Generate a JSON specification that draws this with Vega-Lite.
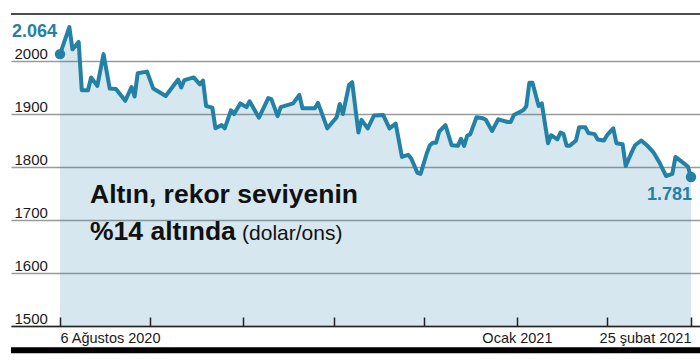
{
  "$schema": "https://vega.github.io/schema/vega-lite/v6.json",
  "width": 689,
  "height": 312,
  "autosize": {"type": "none"},
  "padding": {"left": 11, "top": 14, "right": 0, "bottom": 37},
  "background": "white",
  "config": {"view": {"stroke": null}, "font": "Liberation Sans"},
  "datasets": {
    "gold": [
      {"date": "2020-08-06", "value": 2013},
      {"date": "2020-08-09", "value": 2064},
      {"date": "2020-08-10", "value": 2022},
      {"date": "2020-08-12", "value": 2036},
      {"date": "2020-08-13", "value": 1945},
      {"date": "2020-08-15", "value": 1945},
      {"date": "2020-08-16", "value": 1969},
      {"date": "2020-08-18", "value": 1953},
      {"date": "2020-08-20", "value": 2013},
      {"date": "2020-08-22", "value": 1948},
      {"date": "2020-08-24", "value": 1947},
      {"date": "2020-08-27", "value": 1925},
      {"date": "2020-08-29", "value": 1951},
      {"date": "2020-08-30", "value": 1933},
      {"date": "2020-08-31", "value": 1977},
      {"date": "2020-09-03", "value": 1980},
      {"date": "2020-09-05", "value": 1948},
      {"date": "2020-09-09", "value": 1934},
      {"date": "2020-09-13", "value": 1965},
      {"date": "2020-09-14", "value": 1950},
      {"date": "2020-09-15", "value": 1964},
      {"date": "2020-09-18", "value": 1969},
      {"date": "2020-09-20", "value": 1956},
      {"date": "2020-09-21", "value": 1963},
      {"date": "2020-09-22", "value": 1915},
      {"date": "2020-09-24", "value": 1912},
      {"date": "2020-09-25", "value": 1873},
      {"date": "2020-09-27", "value": 1879},
      {"date": "2020-09-28", "value": 1873},
      {"date": "2020-09-30", "value": 1907},
      {"date": "2020-10-01", "value": 1900},
      {"date": "2020-10-03", "value": 1920},
      {"date": "2020-10-05", "value": 1913},
      {"date": "2020-10-06", "value": 1924},
      {"date": "2020-10-09", "value": 1893},
      {"date": "2020-10-12", "value": 1930},
      {"date": "2020-10-13", "value": 1928},
      {"date": "2020-10-15", "value": 1896},
      {"date": "2020-10-16", "value": 1913},
      {"date": "2020-10-20", "value": 1920},
      {"date": "2020-10-22", "value": 1936},
      {"date": "2020-10-23", "value": 1911},
      {"date": "2020-10-27", "value": 1911},
      {"date": "2020-10-28", "value": 1921},
      {"date": "2020-10-31", "value": 1873},
      {"date": "2020-11-03", "value": 1894},
      {"date": "2020-11-04", "value": 1919},
      {"date": "2020-11-05", "value": 1900},
      {"date": "2020-11-07", "value": 1955},
      {"date": "2020-11-08", "value": 1960},
      {"date": "2020-11-10", "value": 1865},
      {"date": "2020-11-11", "value": 1889},
      {"date": "2020-11-13", "value": 1873},
      {"date": "2020-11-15", "value": 1897},
      {"date": "2020-11-18", "value": 1898},
      {"date": "2020-11-20", "value": 1873},
      {"date": "2020-11-22", "value": 1882},
      {"date": "2020-11-24", "value": 1819},
      {"date": "2020-11-26", "value": 1823},
      {"date": "2020-11-27", "value": 1816},
      {"date": "2020-11-29", "value": 1789},
      {"date": "2020-11-30", "value": 1787},
      {"date": "2020-12-02", "value": 1826},
      {"date": "2020-12-03", "value": 1841},
      {"date": "2020-12-04", "value": 1846},
      {"date": "2020-12-05", "value": 1846},
      {"date": "2020-12-06", "value": 1867},
      {"date": "2020-12-08", "value": 1879},
      {"date": "2020-12-10", "value": 1841},
      {"date": "2020-12-12", "value": 1840},
      {"date": "2020-12-13", "value": 1853},
      {"date": "2020-12-14", "value": 1840},
      {"date": "2020-12-15", "value": 1859},
      {"date": "2020-12-16", "value": 1862},
      {"date": "2020-12-18", "value": 1894},
      {"date": "2020-12-20", "value": 1892},
      {"date": "2020-12-21", "value": 1889},
      {"date": "2020-12-23", "value": 1868},
      {"date": "2020-12-25", "value": 1890},
      {"date": "2020-12-28", "value": 1885},
      {"date": "2020-12-29", "value": 1885},
      {"date": "2020-12-30", "value": 1898},
      {"date": "2021-01-02", "value": 1907},
      {"date": "2021-01-03", "value": 1914},
      {"date": "2021-01-04", "value": 1959},
      {"date": "2021-01-05", "value": 1959},
      {"date": "2021-01-07", "value": 1915},
      {"date": "2021-01-08", "value": 1920},
      {"date": "2021-01-10", "value": 1845},
      {"date": "2021-01-11", "value": 1860},
      {"date": "2021-01-13", "value": 1852},
      {"date": "2021-01-14", "value": 1865},
      {"date": "2021-01-15", "value": 1862},
      {"date": "2021-01-16", "value": 1840},
      {"date": "2021-01-17", "value": 1840},
      {"date": "2021-01-19", "value": 1850},
      {"date": "2021-01-20", "value": 1875},
      {"date": "2021-01-22", "value": 1875},
      {"date": "2021-01-23", "value": 1864},
      {"date": "2021-01-25", "value": 1862},
      {"date": "2021-01-26", "value": 1852},
      {"date": "2021-01-28", "value": 1850},
      {"date": "2021-01-29", "value": 1860},
      {"date": "2021-01-31", "value": 1873},
      {"date": "2021-02-01", "value": 1845},
      {"date": "2021-02-03", "value": 1843},
      {"date": "2021-02-04", "value": 1802},
      {"date": "2021-02-06", "value": 1829},
      {"date": "2021-02-07", "value": 1841},
      {"date": "2021-02-09", "value": 1850},
      {"date": "2021-02-11", "value": 1840},
      {"date": "2021-02-13", "value": 1827},
      {"date": "2021-02-15", "value": 1807},
      {"date": "2021-02-17", "value": 1783},
      {"date": "2021-02-19", "value": 1787},
      {"date": "2021-02-20", "value": 1819},
      {"date": "2021-02-22", "value": 1810},
      {"date": "2021-02-24", "value": 1801},
      {"date": "2021-02-25", "value": 1781}
    ],
    "ends": [
      {"date": "2020-08-06", "value": 2013, "label": "2.064", "side": "start"},
      {"date": "2021-02-25", "value": 1781, "label": "1.781", "side": "end"}
    ]
  },
  "layer": [
    {
      "data": {"name": "gold"},
      "mark": {"type": "area", "fill": "#2882aa", "fillOpacity": 0.19},
      "encoding": {
        "x": {
          "field": "date",
          "type": "temporal",
          "scale": {
            "domain": [
              {"year": 2020, "month": 7, "date": 21, "hours": 5, "minutes": 30, "utc": true},
              {"year": 2021, "month": 2, "date": 27, "hours": 21, "minutes": 36, "utc": true}
            ]
          },
          "axis": {
            "values": [
              {"year": 2020, "month": 8, "date": 6, "utc": true},
              {"year": 2020, "month": 9, "date": 4, "utc": true},
              {"year": 2020, "month": 10, "date": 4, "utc": true},
              {"year": 2020, "month": 11, "date": 2, "utc": true},
              {"year": 2020, "month": 12, "date": 1, "utc": true},
              {"year": 2020, "month": 12, "date": 31, "utc": true},
              {"year": 2021, "month": 1, "date": 29, "utc": true},
              {"year": 2021, "month": 2, "date": 25, "utc": true}
            ],
            "labelExpr": "utcmonth(datum.value) == 7 ? '6 Ağustos 2020' : (utcmonth(datum.value) == 11 && utcdate(datum.value) == 31) ? 'Ocak 2021' : utcmonth(datum.value) == 1 ? '25 şubat 2021' : ''",
            "grid": false,
            "domain": true,
            "domainColor": "#222222",
            "domainWidth": 1.5,
            "ticks": true,
            "tickSize": -9,
            "tickColor": "#222222",
            "tickWidth": 1.5,
            "labelFont": "Liberation Sans",
            "labelFontSize": 14.5,
            "labelColor": "#1a1a1a",
            "labelBaseline": "top",
            "labelPadding": 14,
            "labelFlush": 50,
            "labelFlushOffset": 0,
            "labelOverlap": false,
            "title": null,
            "zindex": 1
          }
        },
        "y": {
          "field": "value",
          "type": "quantitative",
          "scale": {"domain": [1500, 2088.7], "zero": false, "nice": false},
          "axis": {
            "values": [1500, 1600, 1700, 1800, 1900, 2000],
            "format": "d",
            "grid": true,
            "gridColor": "#9a9a9a",
            "gridWidth": 1.3,
            "domain": false,
            "ticks": false,
            "tickSize": 0,
            "labelAlign": "left",
            "labelBaseline": "bottom",
            "labelPadding": -3,
            "labelFont": "Liberation Sans",
            "labelFontSize": 15,
            "labelColor": "#1a1a1a",
            "title": null
          }
        },
        "y2": {"datum": 1500}
      }
    },
    {
      "data": {"name": "gold"},
      "mark": {"type": "line", "color": "#2381a5", "strokeWidth": 4, "strokeJoin": "round", "strokeCap": "round"},
      "encoding": {
        "x": {"field": "date", "type": "temporal"},
        "y": {"field": "value", "type": "quantitative"}
      }
    },
    {
      "data": {"name": "ends"},
      "mark": {"type": "circle", "color": "#2381a5", "size": 110, "opacity": 1},
      "encoding": {
        "x": {"field": "date", "type": "temporal"},
        "y": {"field": "value", "type": "quantitative"}
      }
    },
    {
      "data": {"name": "ends"},
      "transform": [{"filter": "datum.side == 'start'"}],
      "mark": {"type": "text", "color": "#2381a5", "font": "Liberation Sans", "fontWeight": "bold", "fontSize": 18, "align": "right", "baseline": "alphabetic", "dx": -3, "dy": -17.5},
      "encoding": {
        "x": {"field": "date", "type": "temporal"},
        "y": {"field": "value", "type": "quantitative"},
        "text": {"field": "label"}
      }
    },
    {
      "data": {"name": "ends"},
      "transform": [{"filter": "datum.side == 'end'"}],
      "mark": {"type": "text", "color": "#2381a5", "font": "Liberation Sans", "fontWeight": "bold", "fontSize": 18, "align": "right", "baseline": "alphabetic", "dx": 1, "dy": 23.3},
      "encoding": {
        "x": {"field": "date", "type": "temporal"},
        "y": {"field": "value", "type": "quantitative"},
        "text": {"field": "label"}
      }
    },
    {
      "data": {"values": [{"title": "Altın, rekor seviyenin"}]},
      "mark": {"type": "text", "color": "#111111", "font": "Liberation Sans", "fontWeight": "bold", "fontSize": 26.5, "align": "left", "baseline": "alphabetic", "lineHeight": 36.7},
      "encoding": {
        "x": {"datum": {"year": 2020, "month": 8, "date": 15, "hours": 15, "minutes": 36, "utc": true}, "type": "temporal"},
        "y": {"datum": 1731.5, "type": "quantitative"},
        "text": {"value": ["Altın, rekor seviyenin", "%14 altında"]}
      }
    },
    {
      "data": {"values": [{"unit": "(dolar/ons)"}]},
      "mark": {"type": "text", "color": "#111111", "font": "Liberation Sans", "fontWeight": "normal", "fontSize": 21, "align": "left", "baseline": "alphabetic"},
      "encoding": {
        "x": {"datum": {"year": 2020, "month": 10, "date": 3, "hours": 13, "minutes": 30, "utc": true}, "type": "temporal"},
        "y": {"datum": 1662.3, "type": "quantitative"},
        "text": {"field": "unit"}
      }
    },
    {
      "data": {"values": [{}]},
      "mark": {"type": "rule", "color": "#111111", "strokeWidth": 1.5},
      "encoding": {
        "y": {"datum": 2088.7, "type": "quantitative"}
      }
    },
    {
      "data": {"values": [{}]},
      "mark": {"type": "rule", "color": "#000000", "strokeWidth": 6},
      "encoding": {
        "y": {"datum": 1454.2, "type": "quantitative"}
      }
    }
  ]
}
